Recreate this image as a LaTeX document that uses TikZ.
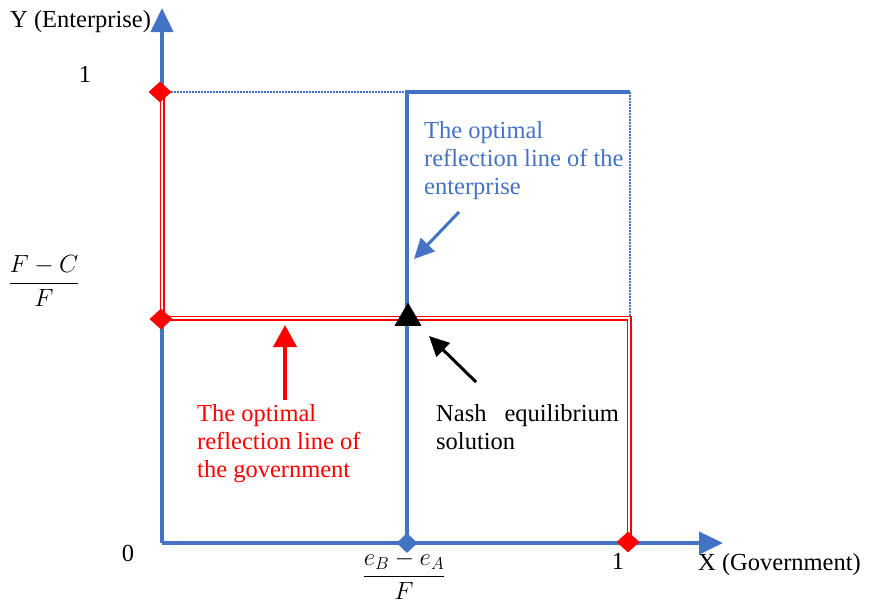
\documentclass[tikz,border=0pt]{standalone}
\usepackage{fontspec}
\setmainfont{Liberation Serif}
\usetikzlibrary{arrows.meta,shapes.geometric}
\definecolor{ablue}{RGB}{68,114,196}
\begin{document}
\begin{tikzpicture}[x=1pt,y=-1pt,
  txt/.style={font=\fontsize{24.5}{28}\selectfont, inner sep=0pt},
  mathtxt/.style={font=\fontsize{24}{28}\selectfont, inner sep=0pt},
  axis/.style={ablue, line width=4pt},
  axisarrow/.style={axis, -{Triangle[length=24pt,width=22pt]}},
  dotline/.style={ablue, line width=1.5pt, dash pattern=on 1.5pt off 1.5pt},
  redline/.style={draw=red, line width=1.8pt, double=white, double distance=1.4pt},
  rdiam/.style={diamond, fill=red, minimum width=23pt, minimum height=21pt, inner sep=0pt},
  bdiam/.style={diamond, fill=ablue, minimum width=21pt, minimum height=20pt, inner sep=0pt},
  nashmark/.style={regular polygon, regular polygon sides=3, fill=black, minimum size=31pt, inner sep=0pt},
  pointer/.style={line width=3pt, -{Triangle[length=20pt,width=19pt]}}
]
\useasboundingbox (0,0) rectangle (874,603);
% coordinates
\coordinate (O) at (162,543);
\coordinate (Ytip) at (162,8);
\coordinate (Xtip) at (723,543);
\coordinate (Y1) at (162,92);
\coordinate (Yq) at (162,318);
\coordinate (X1) at (629,543);
\coordinate (RedC) at (629,318);
\coordinate (Xp) at (407,543);
\coordinate (TopP) at (407,92);
\coordinate (TopR) at (630,92);
\coordinate (MidR) at (630,316);
% axes
\draw[axisarrow] (O) -- (Ytip);
\draw[axisarrow] (O) -- (Xtip);
% red reflection line
\draw[redline] (Y1) -- (Yq) -- (RedC) -- (X1);
% blue reflection line
\draw[dotline] (Y1) -- (TopP);
\draw[dotline] (TopR) -- (MidR);
\draw[axis] (Xp) -- (TopP) -- (TopR);
% markers
\node[rdiam] (d1) at (160,92) {};
\node[rdiam] (d2) at (161,319) {};
\node[rdiam] (d3) at (628,542) {};
\node[bdiam] (d4) at (407,543) {};
\node[nashmark] (nash) at (408,318) {};
% labels
\node[txt, anchor=west] (ylab) at (10,22) {Y (Enterprise)};
\node[txt] (one) at (85,74) {1};
\node[txt] (zero) at (128,553) {0};
\node[txt] (onex) at (618,561) {1};
\node[txt, anchor=west] (xlab) at (698,565) {X (Government)};
\node[mathtxt] (fc) at (44,281) {$\displaystyle\frac{F-C}{F}$};
\node[mathtxt] (ee) at (404,575) {$\displaystyle\frac{e_B-e_A}{F}$};
\node[txt, text=ablue, align=left, anchor=north west] (blab) at (424,121) {The optimal\\reflection line of the\\enterprise};
\node[txt, text=red, align=left, anchor=north west] (rlab) at (197,404) {The optimal\\reflection line of\\the government};
\node[txt, align=left, anchor=north west] (nlab) at (436,404) {Nash\hspace{18pt}equilibrium\\solution};
% pointers
\coordinate (bA) at (459,212);
\coordinate (bB) at (414,259);
\draw[pointer, ablue] (bA) -- (bB);
\coordinate (kA) at (476,382);
\coordinate (kB) at (429,336);
\draw[pointer, black] (kA) -- (kB);
\coordinate (rA) at (285,400);
\coordinate (rB) at (285,325);
\draw[pointer, red, line width=4pt, -{Triangle[length=22pt,width=23pt]}] (rA) -- (rB);
\end{tikzpicture}
\end{document}
